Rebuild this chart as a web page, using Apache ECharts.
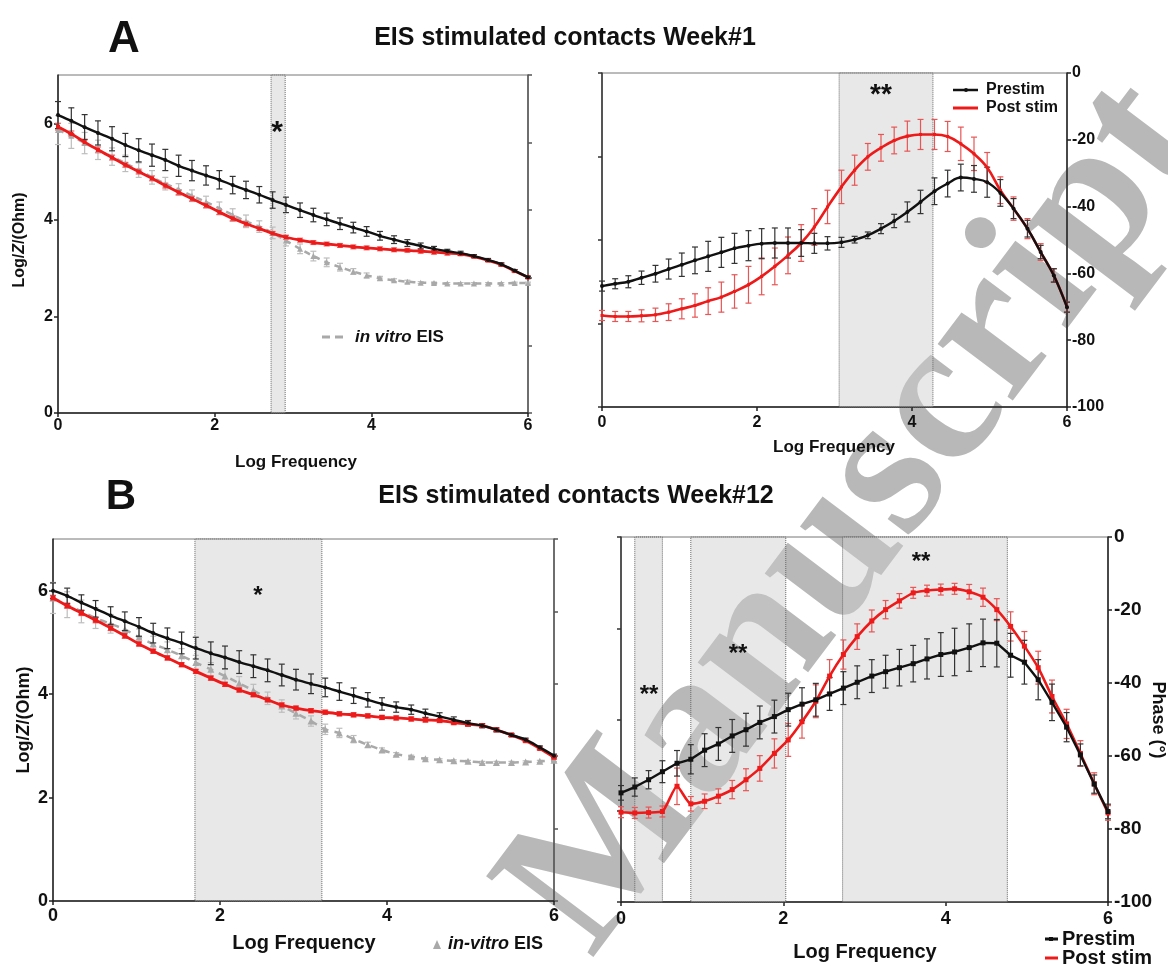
<!DOCTYPE html>
<html><head><meta charset="utf-8">
<script src="https://cdn.jsdelivr.net/npm/echarts/dist/echarts.min.js"></script>
<style>html,body{margin:0;padding:0;background:#fff}#c{width:1168px;height:967px}</style>
</head><body><div id="c"></div>
<script>
// ---------- DATA ----------
const logF = [0,0.17,0.34,0.51,0.69,0.86,1.03,1.2,1.37,1.54,1.71,1.89,2.06,2.23,2.4,2.57,2.74,2.91,3.09,3.26,3.43,3.6,3.77,3.94,4.11,4.29,4.46,4.63,4.8,4.97,5.14,5.31,5.49,5.66,5.83,6.0];
const xTicks = [0,2,4,6];
// Week#1 |Z|
const aZPre = [6.17,6.05,5.92,5.80,5.68,5.55,5.44,5.34,5.24,5.12,5.02,4.92,4.83,4.72,4.62,4.52,4.41,4.31,4.20,4.10,4.01,3.92,3.84,3.76,3.67,3.59,3.52,3.46,3.40,3.35,3.31,3.25,3.17,3.08,2.95,2.81];
const aZPreErr = [0.28,0.27,0.26,0.25,0.25,0.24,0.24,0.23,0.22,0.22,0.21,0.20,0.19,0.18,0.18,0.17,0.17,0.16,0.15,0.14,0.13,0.12,0.11,0.10,0.09,0.08,0.07,0.06,0.05,0.04,0.04,0.03,0.03,0.03,0.02,0.02];
const aZPost = [5.93,5.78,5.61,5.45,5.29,5.14,5.00,4.86,4.71,4.57,4.44,4.30,4.16,4.03,3.92,3.82,3.72,3.64,3.58,3.53,3.50,3.47,3.44,3.42,3.40,3.38,3.37,3.35,3.33,3.31,3.29,3.24,3.16,3.07,2.94,2.81];
const aZPostErr = [0.07,0.06,0.06,0.06,0.05,0.05,0.05,0.05,0.05,0.05,0.05,0.05,0.05,0.05,0.05,0.04,0.04,0.04,0.04,0.04,0.04,0.04,0.04,0.04,0.04,0.04,0.04,0.04,0.04,0.04,0.03,0.03,0.03,0.03,0.03,0.03];
const aZVitro = [5.86,5.74,5.59,5.45,5.31,5.17,5.03,4.88,4.75,4.63,4.50,4.37,4.24,4.10,3.97,3.86,3.73,3.57,3.40,3.25,3.12,3.02,2.93,2.85,2.79,2.75,2.72,2.70,2.69,2.68,2.68,2.68,2.68,2.68,2.69,2.69];
const aZVitroErr = [0.30,0.26,0.22,0.20,0.18,0.17,0.15,0.14,0.13,0.12,0.12,0.12,0.13,0.13,0.13,0.12,0.12,0.11,0.10,0.10,0.09,0.08,0.06,0.05,0.04,0.03,0.03,0.02,0.02,0.02,0.02,0.02,0.02,0.02,0.02,0.02];
// Week#1 phase
const aPhPre = [-63.8,-63.1,-62.5,-61.3,-60.1,-58.7,-57.4,-56.1,-54.9,-53.7,-52.5,-51.7,-51.1,-50.9,-50.9,-50.9,-51.0,-51.0,-50.7,-49.9,-48.6,-46.6,-44.3,-41.6,-38.6,-35.4,-33.1,-31.3,-31.7,-32.7,-35.9,-40.6,-46.6,-53.6,-60.6,-70.1];
const aPhPreErr = [1.5,1.5,1.8,2.0,2.5,3.0,3.5,4.0,4.5,4.5,4.5,4.5,4.5,4.5,4.5,4.0,3.0,2.0,1.5,1.0,1.0,1.5,2.0,3.0,3.5,4.0,4.0,4.0,4.0,4.5,4.0,3.0,2.5,2.0,2.0,1.5];
const aPhPost = [-72.6,-72.9,-72.9,-72.7,-72.4,-71.6,-70.6,-69.6,-68.3,-67.1,-65.4,-63.4,-60.9,-57.9,-54.6,-50.9,-46.1,-40.1,-34.1,-29.1,-25.1,-22.4,-20.2,-18.9,-18.4,-18.4,-19.0,-21.2,-24.2,-28.3,-35.1,-40.6,-46.6,-53.6,-60.6,-70.1];
const aPhPostErr = [1.5,1.5,1.5,1.8,2.0,2.5,3.0,3.5,4.0,4.5,5.0,5.5,5.5,5.5,5.5,5.5,5.5,5.0,5.0,4.5,4.0,4.0,4.0,4.5,4.5,4.5,4.5,5.0,5.0,4.5,4.0,3.5,3.0,2.5,2.0,1.5];
// Week#12 |Z|
const bZPre = [6.00,5.90,5.77,5.65,5.52,5.41,5.30,5.18,5.08,4.99,4.89,4.79,4.71,4.62,4.54,4.46,4.37,4.28,4.20,4.13,4.05,3.97,3.89,3.81,3.75,3.70,3.63,3.57,3.50,3.44,3.39,3.31,3.21,3.12,2.97,2.81];
const bZPreErr = [0.15,0.15,0.15,0.16,0.17,0.18,0.18,0.19,0.20,0.21,0.21,0.22,0.22,0.22,0.22,0.22,0.21,0.20,0.19,0.18,0.17,0.15,0.14,0.12,0.10,0.09,0.08,0.07,0.06,0.05,0.04,0.04,0.03,0.03,0.03,0.03];
const bZPost = [5.86,5.71,5.57,5.43,5.28,5.13,4.97,4.83,4.70,4.57,4.44,4.31,4.19,4.08,3.99,3.89,3.79,3.73,3.68,3.65,3.62,3.60,3.58,3.55,3.54,3.52,3.50,3.49,3.45,3.42,3.39,3.31,3.21,3.10,2.95,2.78];
const bZPostErr = [0.05,0.05,0.05,0.05,0.05,0.05,0.04,0.04,0.04,0.04,0.04,0.04,0.04,0.04,0.04,0.04,0.04,0.04,0.04,0.04,0.04,0.04,0.04,0.04,0.04,0.04,0.04,0.04,0.04,0.04,0.03,0.03,0.03,0.03,0.03,0.03];
const bZVitro = [5.86,5.73,5.60,5.47,5.36,5.25,5.10,4.97,4.86,4.74,4.61,4.48,4.35,4.21,4.07,3.92,3.77,3.63,3.48,3.32,3.25,3.13,3.02,2.92,2.84,2.79,2.75,2.73,2.71,2.70,2.68,2.68,2.68,2.69,2.70,2.72];
const bZVitroErr = [0.30,0.25,0.22,0.20,0.18,0.17,0.16,0.15,0.15,0.14,0.14,0.13,0.13,0.13,0.12,0.12,0.12,0.11,0.10,0.10,0.09,0.07,0.05,0.04,0.03,0.03,0.02,0.02,0.02,0.02,0.02,0.02,0.02,0.02,0.02,0.02];
// Week#12 phase
const bPhPre = [-70.1,-68.5,-66.5,-64.3,-62.0,-60.9,-58.4,-56.7,-54.5,-52.8,-50.8,-49.2,-47.3,-45.8,-44.6,-43.0,-41.4,-39.8,-38.1,-36.9,-35.8,-34.7,-33.4,-32.2,-31.5,-30.3,-29.0,-29.1,-32.4,-34.3,-39.1,-45.3,-52.1,-59.7,-67.7,-75.2];
const bPhPreErr = [2.0,2.5,2.5,3.0,3.5,4.0,4.5,4.5,4.5,4.5,4.5,4.5,4.5,4.5,4.5,4.5,4.5,4.5,4.5,4.5,5.0,5.0,5.5,6.0,6.5,6.5,6.5,6.5,6.0,6.0,5.5,5.0,4.0,3.0,2.5,2.0];
const bPhPost = [-75.4,-75.6,-75.5,-75.2,-68.3,-73.1,-72.4,-71.0,-69.2,-66.5,-63.4,-59.3,-55.6,-50.6,-45.0,-38.1,-32.2,-27.3,-23.0,-19.9,-17.5,-15.3,-14.7,-14.4,-14.2,-15.0,-16.5,-19.9,-24.5,-29.9,-35.8,-43.7,-51.2,-59.3,-67.6,-75.6];
const bPhPostErr = [1.5,1.5,1.5,1.5,5.0,2.0,2.0,2.0,2.5,3.0,3.5,4.0,4.5,4.5,4.5,4.5,4.0,3.5,3.0,2.5,2.0,1.5,1.5,1.5,1.5,2.0,2.5,3.0,4.0,4.0,4.5,4.5,4.0,3.5,3.0,2.0];
// significance bands (log frequency ranges)
const aZShade = [[2.72, 2.90]];
const aPhShade = [[3.06, 4.27]];
const bZShade = [[1.70, 3.22]];
const bPhShade = [[0.17, 0.51], [0.86, 2.03], [2.73, 4.76]];

// ---------- STYLE ----------
const FONT = '"Liberation Sans", Arial, sans-serif';
const BLACK = '#111111', RED = '#ee1a1a', GREY = '#a9a9a9';

function pairs(ys) { return logF.map((x, i) => [x, ys[i]]); }
function errSeries(xi, yi, ys, es, color, z) {
  return {
    type: 'custom', xAxisIndex: xi, yAxisIndex: yi, z: z, silent: true,
    data: logF.map((x, i) => [x, ys[i] - es[i], ys[i] + es[i]]),
    encode: { x: 0, y: [1, 2] },
    renderItem: function (params, api) {
      const lo = api.coord([api.value(0), api.value(1)]);
      const hi = api.coord([api.value(0), api.value(2)]);
      const w = 3, st = { stroke: color, lineWidth: 1.2 };
      return { type: 'group', children: [
        { type: 'line', shape: { x1: lo[0], y1: lo[1], x2: hi[0], y2: hi[1] }, style: st },
        { type: 'line', shape: { x1: lo[0] - w, y1: lo[1], x2: lo[0] + w, y2: lo[1] }, style: st },
        { type: 'line', shape: { x1: hi[0] - w, y1: hi[1], x2: hi[0] + w, y2: hi[1] }, style: st }
      ] };
    }
  };
}
function lineSeries(name, xi, yi, ys, color, opt) {
  return Object.assign({
    type: 'line', name: name, xAxisIndex: xi, yAxisIndex: yi, data: pairs(ys),
    symbol: 'circle', symbolSize: 4, showSymbol: true,
    lineStyle: { color: color, width: 2.4 }, itemStyle: { color: color },
    z: 5, animation: false
  }, opt || {});
}
function shade(ranges) {
  return {
    silent: true,
    itemStyle: { color: 'rgba(205,205,205,0.45)', borderColor: '#666', borderWidth: 1, borderType: 'dotted' },
    data: ranges.map(r => [{ xAxis: r[0] }, { xAxis: r[1] }])
  };
}
function xAx(gi, size, margin) {
  return {
    type: 'value', gridIndex: gi, min: 0, max: 6, interval: 2,
    axisLine: { show: true, onZero: false, lineStyle: { color: '#222', width: 1.5 } },
    axisTick: { show: true, length: 4, lineStyle: { color: '#222', width: 1.5 } },
    axisLabel: { fontFamily: FONT, fontWeight: 'bold', fontSize: size, color: '#111', margin: margin },
    splitLine: { show: false }
  };
}
function yAx(gi, pos, min, max, iv, showLabel, size, margin, lineColor) {
  return {
    type: 'value', gridIndex: gi, position: pos, min: min, max: max, interval: iv,
    axisLine: { show: true, onZero: false, lineStyle: { color: lineColor, width: 1.5 } },
    axisTick: { show: true, length: 4, lineStyle: { color: lineColor, width: 1.5 } },
    axisLabel: { show: showLabel, fontFamily: FONT, fontWeight: 'bold', fontSize: size, color: '#111', margin: margin, showMaxLabel: max !== 7 },
    splitLine: { show: false }
  };
}
function T(x, y, text, size, opt) {
  opt = opt || {};
  return {
    type: 'text', x: x, y: y, rotation: opt.rot || 0, z: 100,
    style: Object.assign({
      text: text, fill: opt.color || '#111',
      font: (opt.italic ? 'italic ' : '') + 'bold ' + size + 'px ' + FONT,
      align: opt.align || 'center', verticalAlign: 'middle',
      textAlign: opt.align || 'center', textVerticalAlign: 'middle'
    }, opt.rich ? { rich: opt.rich } : {})
  };
}
function L(x1, y1, x2, y2, color, w, dash) {
  return { type: 'line', z: 100, shape: { x1: x1, y1: y1, x2: x2, y2: y2 }, style: { stroke: color, lineWidth: w, lineDash: dash || null } };
}

const grids = [
  { left: 58, top: 75, width: 470, height: 338 },
  { left: 602, top: 73, width: 465, height: 334 },
  { left: 53, top: 539, width: 501, height: 362 },
  { left: 621, top: 537, width: 487, height: 365 }
].map(g => Object.assign(g, { show: true, borderColor: '#777', borderWidth: 1, backgroundColor: 'transparent' }));

const richY = (s) => ({ a: { font: 'bold ' + s + 'px ' + FONT, fill: '#111' }, b: { font: 'italic bold ' + s + 'px ' + FONT, fill: '#111' } });

const option = {
  animation: false,
  backgroundColor: '#ffffff',
  grid: grids,
  xAxis: [xAx(0, 16, 5), xAx(1, 16, 8), xAx(2, 18, 6), xAx(3, 18, 8)],
  yAxis: [
    yAx(0, 'left', 0, 7, 2, true, 16, 5, '#222'),
    yAx(0, 'right', -100, 0, 20, false, 16, 5, '#555'),
    yAx(1, 'left', 0, 8, 2, false, 16, 5, '#333'),
    yAx(1, 'right', -100, 0, 20, true, 16, 5, '#222'),
    yAx(2, 'left', 0, 7, 2, true, 18, 5, '#222'),
    yAx(2, 'right', -100, 0, 20, false, 18, 5, '#555'),
    yAx(3, 'left', 0, 8, 2, false, 18, 5, '#333'),
    yAx(3, 'right', -100, 0, 20, true, 19, 6, '#222')
  ],
  series: [
    // A left
    errSeries(0, 0, aZVitro, aZVitroErr, '#bdbdbd', 2),
    lineSeries('in vitro EIS', 0, 0, aZVitro, GREY, { symbol: 'triangle', symbolSize: 6, smooth: 0.3, lineStyle: { color: GREY, width: 2.5, type: [6, 5] }, z: 3 }),
    errSeries(0, 0, aZPost, aZPostErr, '#f06060', 3),
    lineSeries('Post stim', 0, 0, aZPost, RED, { symbol: 'rect', symbolSize: 4, smooth: 0.3, lineStyle: { color: RED, width: 2.8 }, z: 4 }),
    errSeries(0, 0, aZPre, aZPreErr, '#333', 4),
    lineSeries('Prestim', 0, 0, aZPre, BLACK, { smooth: 0.3, z: 5, markArea: shade(aZShade) }),
    // A right
    errSeries(1, 3, aPhPost, aPhPostErr, '#e85555', 3),
    lineSeries('Post stim', 1, 3, aPhPost, RED, { symbol: 'rect', symbolSize: 3, smooth: 0.4, lineStyle: { color: RED, width: 2.6 }, z: 4 }),
    errSeries(1, 3, aPhPre, aPhPreErr, '#333', 4),
    lineSeries('Prestim', 1, 3, aPhPre, BLACK, { smooth: 0.4, z: 5, markArea: shade(aPhShade) }),
    // B left
    errSeries(2, 4, bZVitro, bZVitroErr, '#bdbdbd', 2),
    lineSeries('in-vitro EIS', 2, 4, bZVitro, GREY, { symbol: 'triangle', symbolSize: 7, smooth: 0.3, lineStyle: { color: GREY, width: 2.5, type: [7, 6] }, z: 3 }),
    errSeries(2, 4, bZPost, bZPostErr, '#f06060', 3),
    lineSeries('Post stim', 2, 4, bZPost, RED, { symbol: 'rect', symbolSize: 5, smooth: 0.3, lineStyle: { color: RED, width: 2.8 }, z: 4 }),
    errSeries(2, 4, bZPre, bZPreErr, '#333', 4),
    lineSeries('Prestim', 2, 4, bZPre, BLACK, { smooth: 0.3, z: 5, markArea: shade(bZShade) }),
    // B right
    errSeries(3, 7, bPhPost, bPhPostErr, '#e85555', 3),
    lineSeries('Post stim', 3, 7, bPhPost, RED, { symbol: 'rect', symbolSize: 5, smooth: 0.2, lineStyle: { color: RED, width: 2.6 }, z: 4 }),
    errSeries(3, 7, bPhPre, bPhPreErr, '#333', 4),
    lineSeries('Prestim', 3, 7, bPhPre, BLACK, { symbol: 'rect', symbolSize: 5, z: 5, markArea: shade(bPhShade) })
  ],
  graphic: {
    z: -10,
    elements: [
    { type: 'text', x: 549, y: 928, rotation: 0.925, z: -10, silent: true,
      style: { text: 'Manuscript', font: 'bold 205px "Liberation Serif", "Times New Roman", serif', fill: '#b8b8b8', align: 'left', verticalAlign: 'middle', textAlign: 'left', textVerticalAlign: 'middle' } },
    T(124, 40, 'A', 44),
    T(565, 38, 'EIS stimulated contacts Week#1', 25),
    T(121, 497, 'B', 42),
    T(576, 496, 'EIS stimulated contacts Week#12', 25),
    // A left
    T(20, 240, '{a|Log/}{b|Z}{a|/(Ohm)}', 16, { rot: Math.PI / 2, rich: richY(16) }),
    T(296, 462, 'Log Frequency', 17),
    T(277, 133, '*', 30),
    L(322, 337, 346, 337, GREY, 3, [8, 5]),
    T(355, 337, '{b|in vitro} {a|EIS}', 17, { align: 'left', rich: richY(17) }),
    // A right
    T(834, 447, 'Log Frequency', 17),
    T(881, 95, '**', 28),
    L(953, 90, 978, 90, BLACK, 2.5), { type: 'circle', z: 101, shape: { cx: 966, cy: 90, r: 2 }, style: { fill: BLACK } },
    T(986, 90, 'Prestim', 16, { align: 'left' }),
    L(953, 108, 978, 108, RED, 3),
    T(986, 108, 'Post stim', 16, { align: 'left' }),
    // B left
    T(24, 720, '{a|Log/}{b|Z}{a|/(Ohm)}', 18, { rot: Math.PI / 2, rich: richY(18) }),
    T(304, 943, 'Log Frequency', 20),
    T(258, 596, '*', 24),
    { type: 'polygon', z: 101, shape: { points: [[433, 949], [441, 949], [437, 940]] }, style: { fill: GREY } },
    T(448, 944, '{b|in-vitro} {a|EIS}', 18, { align: 'left', rich: richY(18) }),
    // B right
    T(865, 952, 'Log Frequency', 20),
    T(1158, 720, 'Phase (°)', 18, { rot: -Math.PI / 2 }),
    T(649, 695, '**', 24),
    T(738, 654, '**', 24),
    T(921, 562, '**', 24),
    L(1045, 939, 1058, 939, BLACK, 3), { type: 'rect', z: 101, shape: { x: 1049, y: 937, width: 4, height: 4 }, style: { fill: BLACK } },
    T(1062, 939, 'Prestim', 20, { align: 'left' }),
    L(1045, 958, 1058, 958, RED, 3),
    T(1062, 958, 'Post stim', 20, { align: 'left' })
    ]
  }
};
const chart = echarts.init(document.getElementById('c'), null, { renderer: 'canvas' });
chart.setOption(option);
</script></body></html>
